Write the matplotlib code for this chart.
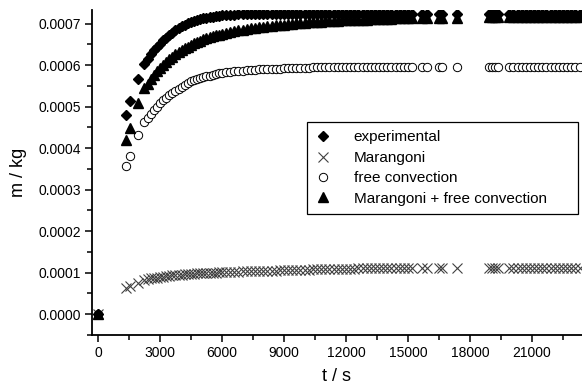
import numpy as np
import matplotlib
matplotlib.use('Agg')
import matplotlib.pyplot as plt
from matplotlib.ticker import MultipleLocator, FormatStrFormatter

plt.rcParams['font.family'] = ['Liberation Sans', 'DejaVu Sans']

# time in s, shared by all four series
t_s = [0, 1350, 1550, 1930, 2230,
       2400, 2550, 2700, 2850, 3000, 3150, 3300, 3450, 3600, 3750,
       3900, 4050, 4200, 4350, 4500, 4650, 4800, 4950, 5100, 5250,
       5400, 5550, 5700, 5850, 6000,
       6200, 6400, 6600, 6800, 7000, 7200, 7400, 7600, 7800, 8000,
       8200, 8400, 8600, 8800, 9000, 9200, 9400, 9600, 9800, 10000,
       10200, 10400, 10600, 10800, 11000, 11200, 11400, 11600, 11800, 12000,
       12200, 12400, 12600, 12800, 13000, 13200, 13400, 13600, 13800, 14000,
       14200, 14400, 14600, 14800, 15000, 15200, 15700, 15900, 16500, 16650,
       17350,
       18900, 19050, 19200, 19350, 19900, 20100, 20300, 20500, 20700, 20900,
       21100, 21300, 21500, 21700, 21900, 22100, 22300, 22500, 22700, 22900,
       23100, 23300]

# masses in units of 1e-4 kg
experimental = [0, 4.80, 5.13, 5.66, 6.02,
                6.15, 6.27, 6.37, 6.45, 6.52, 6.60, 6.66, 6.72, 6.78, 6.84,
                6.89, 6.94, 6.98, 7.01, 7.04, 7.07, 7.09, 7.11, 7.13, 7.14,
                7.16, 7.17, 7.18, 7.19, 7.20,
                7.21, 7.22, 7.22, 7.23, 7.23, 7.24, 7.23, 7.24, 7.24, 7.23,
                7.24, 7.24, 7.23, 7.24, 7.24, 7.23, 7.24, 7.24, 7.23, 7.24,
                7.24, 7.23, 7.24, 7.24, 7.23, 7.24, 7.24, 7.23, 7.24, 7.24,
                7.23, 7.24, 7.24, 7.24, 7.23, 7.24, 7.24, 7.23, 7.24, 7.24,
                7.24, 7.23, 7.24, 7.24, 7.23, 7.24, 7.24, 7.23, 7.24, 7.24,
                7.23,
                7.24, 7.23, 7.24, 7.24, 7.23, 7.24, 7.24, 7.23, 7.24, 7.24,
                7.23, 7.24, 7.24, 7.23, 7.24, 7.24, 7.23, 7.24, 7.24, 7.23,
                7.24, 7.24]

marangoni = [0, 0.63, 0.68, 0.76, 0.82,
             0.84, 0.86, 0.87, 0.88, 0.89, 0.90, 0.91, 0.92, 0.93, 0.94,
             0.94, 0.95, 0.96, 0.96, 0.97, 0.97, 0.98, 0.98, 0.99, 0.99,
             1.00, 1.00, 1.00, 1.01, 1.01,
             1.01, 1.02, 1.02, 1.02, 1.03, 1.03, 1.03, 1.04, 1.04, 1.04,
             1.05, 1.05, 1.05, 1.06, 1.06, 1.06, 1.06, 1.07, 1.07, 1.07,
             1.07, 1.08, 1.08, 1.08, 1.08, 1.08, 1.09, 1.09, 1.09, 1.09,
             1.09, 1.09, 1.10, 1.10, 1.10, 1.10, 1.10, 1.10, 1.10, 1.10,
             1.10, 1.11, 1.11, 1.11, 1.11, 1.11, 1.11, 1.11, 1.11, 1.11,
             1.11,
             1.12, 1.12, 1.12, 1.12, 1.12, 1.12, 1.12, 1.12, 1.12, 1.12,
             1.12, 1.12, 1.12, 1.12, 1.12, 1.12, 1.12, 1.12, 1.12, 1.12,
             1.12, 1.12]

free_convection = [0, 3.57, 3.81, 4.31, 4.63,
                   4.72, 4.82, 4.92, 5.00, 5.08, 5.15, 5.21, 5.27, 5.33, 5.38,
                   5.43, 5.48, 5.53, 5.57, 5.61, 5.64, 5.67, 5.69, 5.71, 5.73,
                   5.75, 5.77, 5.79, 5.80, 5.81,
                   5.83, 5.84, 5.85, 5.86, 5.87, 5.88, 5.88, 5.89, 5.90, 5.90,
                   5.91, 5.91, 5.92, 5.92, 5.93, 5.93, 5.93, 5.94, 5.94, 5.94,
                   5.94, 5.95, 5.95, 5.95, 5.95, 5.95, 5.95, 5.95, 5.96, 5.96,
                   5.96, 5.96, 5.96, 5.96, 5.96, 5.96, 5.96, 5.96, 5.96, 5.96,
                   5.96, 5.96, 5.96, 5.96, 5.96, 5.96, 5.96, 5.96, 5.96, 5.96,
                   5.96,
                   5.96, 5.96, 5.96, 5.96, 5.96, 5.96, 5.96, 5.96, 5.96, 5.96,
                   5.96, 5.96, 5.96, 5.96, 5.96, 5.96, 5.96, 5.96, 5.96, 5.96,
                   5.96, 5.96]

marangoni_free = [0, 4.19, 4.48, 5.08, 5.45,
                  5.55, 5.66, 5.76, 5.85, 5.93, 6.01, 6.08, 6.14, 6.20, 6.26,
                  6.31, 6.36, 6.41, 6.45, 6.49, 6.53, 6.56, 6.59, 6.62, 6.65,
                  6.67, 6.70, 6.72, 6.74, 6.76,
                  6.78, 6.80, 6.82, 6.84, 6.86, 6.87, 6.89, 6.90, 6.91, 6.92,
                  6.94, 6.95, 6.96, 6.97, 6.98, 6.99, 7.00, 7.01, 7.02, 7.02,
                  7.03, 7.04, 7.04, 7.05, 7.06, 7.06, 7.07, 7.07, 7.08, 7.08,
                  7.09, 7.09, 7.10, 7.10, 7.10, 7.11, 7.11, 7.11, 7.12, 7.12,
                  7.12, 7.13, 7.13, 7.13, 7.13, 7.14, 7.14, 7.14, 7.15, 7.15,
                  7.15,
                  7.16, 7.16, 7.16, 7.16, 7.16, 7.16, 7.16, 7.16, 7.16, 7.16,
                  7.16, 7.16, 7.16, 7.16, 7.16, 7.16, 7.16, 7.16, 7.16, 7.16,
                  7.16, 7.16]

t = np.array(t_s)
scale = 1e-4

fig = plt.figure(figsize=(5.82, 3.86), dpi=100)
ax = fig.add_axes([0.158, 0.132, 0.842, 0.842])

ax.plot(t, np.array(experimental) * scale, 'D', ms=5.5, color='black',
        mec='black', label='experimental', zorder=4)
ax.plot(t, np.array(marangoni) * scale, 'x', ms=6.5, color='0.25',
        mew=0.8, label='Marangoni', zorder=3)
ax.plot(t, np.array(free_convection) * scale, 'o', ms=6, mfc='white',
        mec='black', mew=0.7, label='free convection', zorder=3)
ax.plot(t, np.array(marangoni_free) * scale, '^', ms=6.5, color='black',
        label='Marangoni + free convection', zorder=4)

ax.set_xlim(-290, 23420)
ax.set_ylim(-0.0000506, 0.000733)

ax.xaxis.set_major_locator(MultipleLocator(3000))
ax.xaxis.set_minor_locator(MultipleLocator(1500))
ax.yaxis.set_major_locator(MultipleLocator(0.0001))
ax.yaxis.set_minor_locator(MultipleLocator(0.00005))
ax.yaxis.set_major_formatter(FormatStrFormatter('%.4f'))

ax.spines['top'].set_visible(False)
ax.spines['right'].set_visible(False)
for side in ['left', 'bottom']:
    ax.spines[side].set_linewidth(1.3)

ax.tick_params(which='major', direction='out', length=5, width=1.1,
               labelsize=10, pad=3)
ax.tick_params(which='minor', direction='out', length=3.5, width=1.1)

ax.set_xlabel('t / s', fontsize=13, labelpad=6)
ax.set_ylabel('m / kg', fontsize=13, labelpad=8)

leg = ax.legend(loc='lower left', bbox_to_anchor=(0.439, 0.372, 0.553, 0.29),
                mode='expand', fancybox=False, edgecolor='black',
                fontsize=11, handlelength=1.0, handletextpad=1.5,
                labelspacing=0.42, borderpad=0.55, borderaxespad=0,
                framealpha=1)
leg.get_frame().set_linewidth(0.9)

fig.savefig('out.png', dpi=100)
